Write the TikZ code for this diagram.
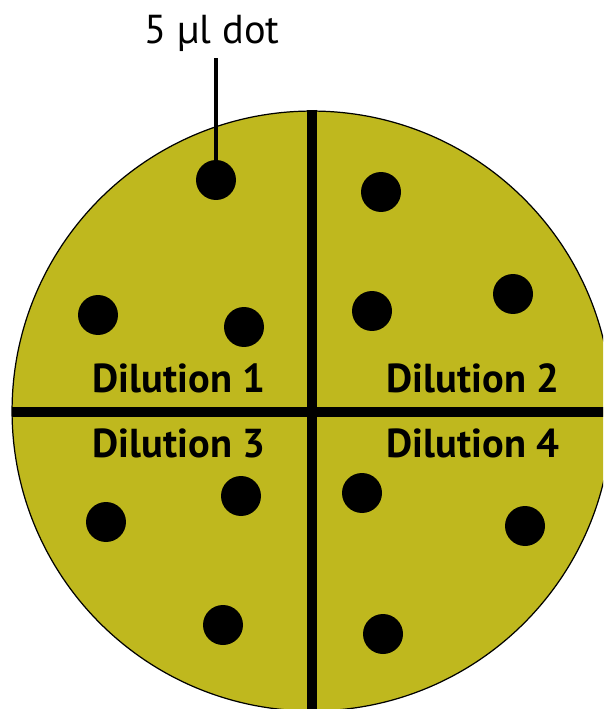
\documentclass[tikz,border=0pt]{standalone}
\usepackage{fontspec}
\setmainfont{PT Sans}
\usetikzlibrary{positioning}
\definecolor{agar}{HTML}{BFB81E}
\tikzset{
  plate/.style={fill=agar, draw=black, line width=0.7pt},
  divider/.style={line width=5.5pt},
  spot/.style={circle, fill=black, inner sep=0pt, minimum size=0.8cm},
  dilabel/.style={font=\bfseries\fontsize{23}{25}\selectfont, anchor=base},
  toplabel/.style={font=\fontsize{23}{25}\selectfont, anchor=base},
  pointer/.style={line width=1.8pt},
}

\begin{document}
\begin{tikzpicture}[x=0.02cm, y=-0.02cm]
\useasboundingbox (0,0) rectangle (603,709);
\clip (0,0) rectangle (603,709);

% ===== plate and quadrant lines =====
\fill[plate] (312,411) circle[radius=6cm];
\coordinate (top) at (312,110);
\coordinate (bot) at (312,720);
\coordinate (lft) at (12,412);
\coordinate (rgt) at (610,412);
\draw[divider] (top) -- (bot);
\draw[divider] (lft) -- (rgt);

% ===== spots, three per dilution =====
\node[spot] (d1) at (216,180) {};
\foreach \n/\x/\y in {a/98/315, b/244/327, c/381/192, d/372/311, e/513/294,
                     f/241/496, g/106/522, h/223/625, i/362/493, j/525/526, k/383/634}
  { \node[spot] (s\n) at (\x,\y) {}; }

% ===== labels =====
\node[dilabel] (dil1) at (179,392) {Dilution 1};
\node[dilabel] (dil2) at (473,392) {Dilution 2};
\node[dilabel] (dil3) at (179,457) {Dilution 3};
\node[dilabel] (dil4) at (473,457) {Dilution 4};

\node[toplabel] (lbl) at (212,44) {5 µl dot};
\draw[pointer] (d1.north |- lbl.south) -- (d1.north);

\end{tikzpicture}
\end{document}
